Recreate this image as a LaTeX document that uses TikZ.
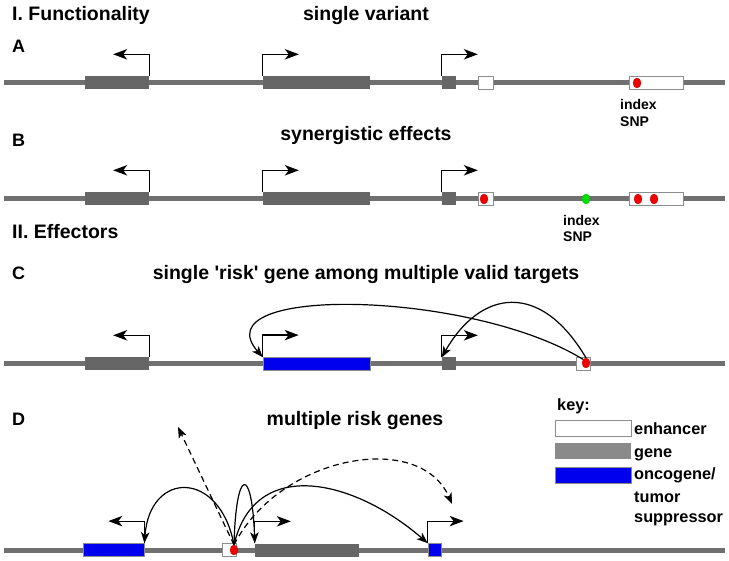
\documentclass[tikz,border=0pt]{standalone}
\usepackage{fontspec}
\setmainfont{Liberation Sans}
\usepackage{tikz}
\usetikzlibrary{arrows.meta,shapes.geometric}
\definecolor{dnagray}{RGB}{112,112,112}
\definecolor{genegray}{RGB}{102,102,102}
\definecolor{keygray}{RGB}{138,138,138}
\definecolor{boxedge}{RGB}{140,140,140}
\definecolor{riskblue}{RGB}{0,0,238}
\definecolor{snpred}{RGB}{238,0,0}
\definecolor{snpgreen}{RGB}{0,225,0}
\tikzset{
  dna/.style={draw=dnagray, line width=5pt},
  genebox/.style={rectangle, fill=genegray, minimum height=13pt, inner sep=0pt},
  riskbox/.style={genebox, fill=riskblue, draw=boxedge, line width=0.8pt},
  enhbox/.style={rectangle, draw=boxedge, fill=white, line width=1pt, minimum height=13pt, inner sep=0pt},
  snp/.style={ellipse, fill=snpred, draw=snpred!80!black, line width=0.3pt, minimum width=8pt, minimum height=10pt, inner sep=0pt},
  tssarr/.style={-{Stealth[length=14pt, width=10.5pt, inset=4pt]}, line width=1.2pt},
  linkarr/.style={-{Stealth[length=11pt, width=8.5pt, inset=3pt]}, line width=1.2pt},
  hdr/.style={font=\bfseries\fontsize{19.5}{22}\selectfont, inner sep=0pt},
  paneltag/.style={font=\bfseries\fontsize{18}{20}\selectfont, inner sep=0pt, anchor=base west},
  snplbl/.style={font=\bfseries\fontsize{14}{17}\selectfont, inner sep=0pt, anchor=base west},
  keytxt/.style={font=\bfseries\fontsize{16.3}{20}\selectfont, inner sep=0pt, anchor=base west},
}

\begin{document}
\begin{tikzpicture}[x=1pt,y=-1pt]
  \useasboundingbox (0,0) rectangle (729,561);
  % headings
  \node[hdr, anchor=base west] (secI) at (12,20.5) {I. Functionality};
  \node[hdr, anchor=base] (ttlA) at (366,20.5) {single variant};
  \node[paneltag] (tagA) at (12,53) {A};
  \node[paneltag] (tagB) at (12,147) {B};
  \node[hdr, anchor=base] (ttlB) at (366,141) {synergistic effects};
  \node[hdr, anchor=base west] (secII) at (12,239) {II. Effectors};
  \node[paneltag] (tagC) at (12,280) {C};
  \node[hdr, anchor=base] (ttlC) at (366,280) {single \textquotesingle risk\textquotesingle\ gene among multiple valid targets};
  \node[paneltag] (tagD) at (12,426) {D};
  \node[hdr, anchor=base] (ttlD) at (355,426) {multiple risk genes};

  % chromosome lines
  \foreach \p/\y in {A/83,B/199,C/364,D/550} {
    \coordinate (lft\p) at (4,\y);
    \coordinate (rgt\p) at (725,\y);
    \draw[dna] (lft\p) -- (rgt\p);
  }

  % genes, panels A-C
  \foreach \p/\y in {A/83,B/199,C/364} {
    \node[genebox, minimum width=64pt] (gA\p) at (117,\y) {};
    \node[genebox, minimum width=14pt] (gC\p) at (449,\y) {};
  }
  \node[genebox, minimum width=107pt] (gBA) at (316.5,83) {};
  \node[genebox, minimum width=107pt] (gBB) at (316.5,199) {};
  \node[riskbox, minimum width=107pt] (gBC) at (316.5,364) {};
  % genes, panel D
  \node[riskbox, minimum width=61pt] (gAD) at (113.5,550) {};
  \node[genebox, minimum width=104pt] (gBD) at (307,550) {};
  \node[riskbox, minimum width=13pt] (gCD) at (434.5,550) {};

  % transcription start arrows
  \foreach \p in {A,B,C,D} {
    \draw[tssarr] (gA\p.north east) |- ++(-36,-22);
    \draw[tssarr] (gB\p.north west) |- ++(36,-22);
    \draw[tssarr] (gC\p.north west) |- ++(36,-22);
  }

  % A: enhancers and SNP
  \node[enhbox, minimum width=15pt] (enhA1) at (485.5,83) {};
  \node[enhbox, minimum width=54pt] (enhA2) at (656,83) {};
  \node[snp] (snpA) at (637,83) {};
  \node[snplbl] (idxA) at (620,110) {index};
  \node[snplbl] (idxA2) at (620,127) {SNP};

  % B: enhancers and SNPs
  \node[enhbox, minimum width=15pt] (enhB1) at (485.5,199) {};
  \node[enhbox, minimum width=54pt] (enhB2) at (656,199) {};
  \node[snp] (snpB1) at (484,199) {};
  \node[snp, fill=snpgreen, draw=snpgreen!80!black] (snpB2) at (586,199) {};
  \node[snp] (snpB3) at (638,199) {};
  \node[snp] (snpB4) at (654,199) {};
  \node[snplbl] (idxB) at (563,226) {index};
  \node[snplbl] (idxB2) at (563,242) {SNP};

  % C: enhancer, SNP and loops
  \node[enhbox, minimum width=14pt] (enhC) at (583,364) {};
  \node[snp] (snpC) at (586,363) {};
  \draw[linkarr] (snpC.north west) .. controls (470,290) and (200,285) .. (gBC.north west);
  \draw[linkarr] (snpC.north) .. controls (540,280) and (480,290) .. (gCC.north west);

  % D: enhancer, SNP and loops
  \node[enhbox, minimum width=14pt] (enhD) at (229,550) {};
  \node[snp] (snpD) at (234,550) {};
  \coordinate (farL) at (178,427);
  \coordinate (farR) at (452,504);
  \draw[linkarr] (snpD.north) .. controls (220,470) and (150,470) .. (gAD.north east);
  \draw[linkarr] (snpD.north) .. controls (236,466) and (252,466) .. (gBD.north west);
  \draw[linkarr] (snpD.north) .. controls (255,455) and (355,480) .. (gCD.north west);
  \draw[linkarr, dash pattern=on 6pt off 4pt] (snpD.north) -- (farL);
  \draw[linkarr, dash pattern=on 6pt off 4pt] (snpD.north) .. controls (280,455) and (420,430) .. (farR);

  % key
  \node[keytxt] (keyhd) at (557,411) {key:};
  \node[enhbox, minimum width=76pt, minimum height=16pt] (keyenh) at (593,429) {};
  \node[genebox, fill=keygray, minimum width=76pt, minimum height=16pt] (keygene) at (593,451.5) {};
  \node[riskbox, minimum width=76pt, minimum height=16pt] (keyrisk) at (593,475) {};
  \node[keytxt] (keyt1) at (634,435) {enhancer};
  \node[keytxt] (keyt2) at (634,457) {gene};
  \node[keytxt] (keyt3) at (634,480) {oncogene/};
  \node[keytxt] (keyt4) at (634,502) {tumor};
  \node[keytxt] (keyt5) at (634,522) {suppressor};
\end{tikzpicture}
\end{document}
